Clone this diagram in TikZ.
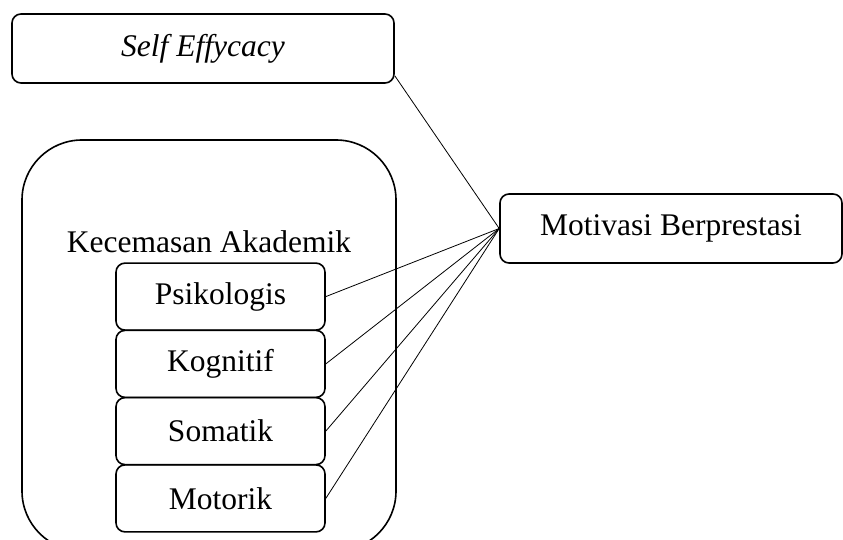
\documentclass[tikz,border=0pt]{standalone}
\usepackage{fontspec}
\setmainfont{Liberation Serif}
\usetikzlibrary{calc}
\begin{document}
\begin{tikzpicture}[x=1pt,y=-1pt,
  box/.style={draw,line width=1.6pt,rounded corners=9pt,inner sep=0pt,
    font=\fontsize{31.5}{36}\selectfont},
  conn/.style={line width=0.8pt}]
\useasboundingbox (0,0) rectangle (843,540);
\clip (0,0) rectangle (843,540);
\node[box,minimum width=382pt,minimum height=69pt] (se) at (203,48.5) {\itshape Self Effycacy};
\node[box,rounded corners=60pt,minimum width=374pt,minimum height=411pt] (big) at (209,345.5) {};
\node[inner sep=0pt,font=\fontsize{31.5}{36}\selectfont] (ka) at (209,242) {Kecemasan Akademik};
\node[box,minimum width=209pt,minimum height=67pt] (psi) at (220.5,296.6) {Psikologis};
\node[box,minimum width=209pt,minimum height=67pt] (kog) at (220.5,363.9) {Kognitif};
\node[box,minimum width=209pt,minimum height=67pt] (som) at (220.5,431.1) {Somatik};
\node[box,minimum width=209pt,minimum height=67pt] (mot) at (220.5,498.4) {Motorik};
\node[box,minimum width=342pt,minimum height=69pt] (mb) at (671,228.5) {Motivasi Berprestasi};
\coordinate (sestart) at ($(se.south east)+(0,-8)$);
\draw[conn] (sestart) -- (mb.west);
\draw[conn] (psi.east) -- (mb.west);
\draw[conn] (kog.east) -- (mb.west);
\draw[conn] (som.east) -- (mb.west);
\draw[conn] (mot.east) -- (mb.west);
\end{tikzpicture}
\end{document}
